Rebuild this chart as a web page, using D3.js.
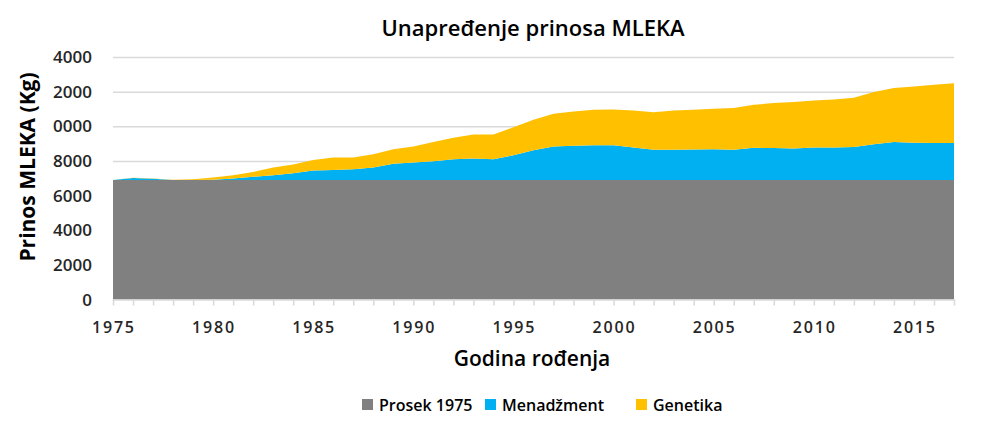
<!DOCTYPE html>
<html>
<head>
<meta charset="utf-8">
<script src="https://cdn.jsdelivr.net/npm/d3@7"></script>
<style>
  body { margin: 0; background: #fff; }
  svg { display: block; font-family: "Open Sans", sans-serif; }
  .grid line { stroke: #d9d9d9; stroke-width: 1.5; }
  .grid .domain { display: none; }
</style>
</head>
<body>
<svg id="chart" width="991" height="437"></svg>
<script>
// years of birth
var years = d3.range(1975, 2018);

// average of 1975, constant
var prosek = years.map(function () { return 6900; });

// management gain (kg) on top of the 1975 average
var menadzment = [0, 110, 70, 0, 0, 20, 80, 190, 270, 390,
  550, 580, 620, 720, 930, 1010, 1080, 1200, 1240, 1200,
  1430, 1720, 1940, 1970, 2010, 2010, 1880, 1740, 1740, 1760,
  1780, 1740, 1860, 1840, 1820, 1880, 1880, 1910, 2070, 2200,
  2150, 2130, 2130];

// genetic gain (kg) on top of management
var genetika = [0, 20, 20, 10, 40, 130, 190, 270, 450, 510,
  600, 720, 680, 770, 850, 930, 1120, 1240, 1390, 1430,
  1610, 1760, 1880, 1980, 2050, 2060, 2130, 2170, 2270, 2300,
  2330, 2410, 2480, 2600, 2680, 2710, 2770, 2840, 3010, 3110,
  3250, 3370, 3450];

// y tick labels as printed (leading digit cut off in the source)
var yTicks = [0, 2000, 4000, 6000, 8000, 10000, 12000, 14000];
var yTickLabels = ["0", "2000", "4000", "6000", "8000", "0000", "2000", "4000"];
var xTicks = [1975, 1980, 1985, 1990, 1995, 2000, 2005, 2010, 2015];

var seriesNames = ["Prosek 1975", "Menadžment", "Genetika"];
var colors = ["#808080", "#00b0f0", "#ffc000"];

var svg = d3.select("#chart");

var x = d3.scaleLinear().domain([1975, 2017]).range([113, 954]);
var y = d3.scaleLinear().domain([0, 14000]).range([299.5, 57]);

// gridlines
svg.append("g")
  .attr("class", "grid")
  .attr("transform", "translate(113,0)")
  .call(d3.axisLeft(y).tickValues(yTicks.slice(1)).tickSize(-(954 - 113)).tickFormat(""));

// stacked data
var rows = years.map(function (yr, i) {
  return { year: yr, p: prosek[i], m: menadzment[i], g: genetika[i] };
});
var stack = d3.stack().keys(["p", "m", "g"]);
var layers = stack(rows);

var area = d3.area()
  .x(function (d) { return x(d.data.year); })
  .y0(function (d) { return y(d[0]); })
  .y1(function (d) { return y(d[1]); });

svg.append("g").selectAll("path")
  .data(layers)
  .enter().append("path")
  .attr("d", area)
  .attr("fill", function (d, i) { return colors[i]; });

// x axis
var xAxis = svg.append("g")
  .attr("transform", "translate(0," + y(0) + ")")
  .call(d3.axisBottom(x).tickValues(years).tickSize(6).tickSizeOuter(0).tickFormat(""));
xAxis.select(".domain").attr("stroke", "#d9d9d9").attr("stroke-width", 1.5);
xAxis.selectAll(".tick line").attr("stroke", "#d9d9d9").attr("stroke-width", 1.5);

svg.append("g").selectAll("text")
  .data(xTicks)
  .enter().append("text")
  .attr("x", function (d) { return x(d); })
  .attr("y", 333)
  .attr("text-anchor", "middle")
  .attr("font-size", 16)
  .attr("font-weight", 600)
  .attr("fill", "#262626")
  .attr("textLength", 42)
  .text(function (d) { return d; });

// y labels
svg.append("g").selectAll("text")
  .data(yTicks)
  .enter().append("text")
  .attr("x", 92)
  .attr("y", function (d) { return y(d) + 6; })
  .attr("text-anchor", "end")
  .attr("font-size", 17)
  .attr("font-weight", 600)
  .attr("fill", "#262626")
  .text(function (d, i) { return yTickLabels[i]; });

// titles
svg.append("text")
  .attr("x", 533).attr("y", 36)
  .attr("text-anchor", "middle")
  .attr("font-size", 22).attr("font-weight", 600)
  .attr("fill", "#000")
  .text("Unapređenje prinosa MLEKA");

svg.append("text")
  .attr("x", 532).attr("y", 366)
  .attr("text-anchor", "middle")
  .attr("font-size", 21).attr("font-weight", 600)
  .attr("fill", "#000")
  .text("Godina rođenja");

svg.append("text")
  .attr("transform", "translate(35,167) rotate(-90)")
  .attr("text-anchor", "middle")
  .attr("font-size", 21).attr("font-weight", 700)
  .attr("fill", "#000")
  .text("Prinos MLEKA (Kg)");

// legend
var legendX = [362, 485, 636];
var legend = svg.append("g").selectAll("g")
  .data(seriesNames)
  .enter().append("g")
  .attr("transform", function (d, i) { return "translate(" + legendX[i] + ",399)"; });
legend.append("rect")
  .attr("width", 11).attr("height", 11)
  .attr("fill", function (d, i) { return colors[i]; });
legend.append("text")
  .attr("x", 17).attr("y", 11.5)
  .attr("font-size", 16).attr("font-weight", 600)
  .attr("fill", "#000")
  .text(function (d) { return d; });
</script>
</body>
</html>
